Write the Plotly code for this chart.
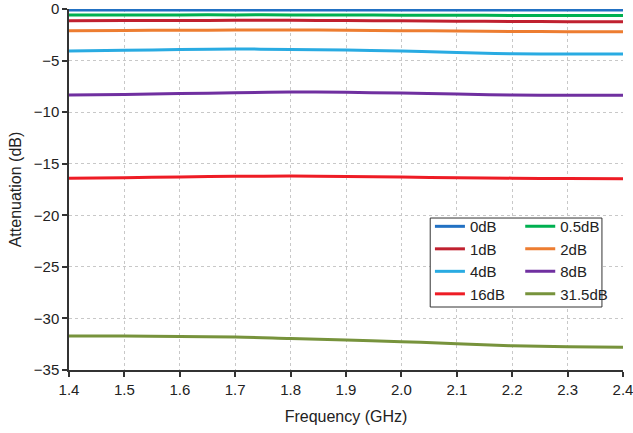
import plotly.graph_objects as go

freq = [1.4, 1.5, 1.6, 1.7, 1.8, 1.9, 2.0, 2.1, 2.2, 2.3, 2.4]
att_0 = [-0.1, -0.1, -0.1, -0.1, -0.1, -0.1, -0.1, -0.1, -0.1, -0.1, -0.1]
att_05 = [-0.58, -0.58, -0.57, -0.57, -0.57, -0.58, -0.6, -0.61, -0.62, -0.63, -0.64]
att_1 = [-1.13, -1.12, -1.11, -1.1, -1.1, -1.12, -1.15, -1.18, -1.21, -1.23, -1.24]
att_2 = [-2.1, -2.08, -2.06, -2.04, -2.04, -2.06, -2.1, -2.14, -2.18, -2.2, -2.2]
att_4 = [-4.07, -4.0, -3.93, -3.88, -3.92, -3.98, -4.07, -4.22, -4.34, -4.36, -4.36]
att_8 = [-8.34, -8.28, -8.2, -8.12, -8.05, -8.08, -8.15, -8.25, -8.34, -8.36, -8.36]
att_16 = [-16.4, -16.35, -16.28, -16.22, -16.2, -16.24, -16.3, -16.36, -16.4, -16.44, -16.45]
att_315 = [-31.7, -31.7, -31.75, -31.8, -31.95, -32.1, -32.25, -32.45, -32.65, -32.75, -32.8]

x_ticks = [1.4, 1.5, 1.6, 1.7, 1.8, 1.9, 2.0, 2.1, 2.2, 2.3, 2.4]
x_tick_labels = ["1.4", "1.5", "1.6", "1.7", "1.8", "1.9", "2.0", "2.1", "2.2", "2.3", "2.4"]

names = ["0dB", "0.5dB", "1dB", "2dB", "4dB", "8dB", "16dB", "31.5dB"]
series = [att_0, att_05, att_1, att_2, att_4, att_8, att_16, att_315]
colors = ["#2271c3", "#00b050", "#c0202f", "#ed7d31", "#29abe2", "#7030a0", "#ee1c25", "#77933c"]
legend_ids = ["legend", "legend2", "legend", "legend2", "legend", "legend2", "legend", "legend2"]

fig = go.Figure()
for n, s, c, lg in zip(names, series, colors, legend_ids):
    fig.add_trace(go.Scatter(x=freq, y=s, name=n, mode="lines",
                             line=dict(color=c, width=3, shape="spline"),
                             legend=lg))

font_fam = "Liberation Sans, Arial, sans-serif"
axis_common = dict(
    showline=True, linecolor="#333", linewidth=1.5,
    ticks="outside", ticklen=5, tickcolor="#333", tickwidth=1.5,
    showgrid=True, gridcolor="#c8c8c8", griddash="dot", gridwidth=1,
    zeroline=False, automargin=False, ticklabeloverflow="allow",
    tickfont=dict(size=15, color="#222", family=font_fam),
)

fig.update_layout(
    width=633, height=433,
    margin=dict(l=69, r=10, t=9, b=63),
    paper_bgcolor="white", plot_bgcolor="white",
    font=dict(family=font_fam, color="#222"),
    xaxis=dict(range=[1.4, 2.4], tickmode="array", tickvals=x_ticks, ticktext=x_tick_labels,
               title=dict(text="Frequency (GHz)", font=dict(size=16), standoff=14),
               **axis_common),
    yaxis=dict(range=[-35, 0], dtick=5,
               title=dict(text="Attenuation (dB)", font=dict(size=16), standoff=8),
               **axis_common),
    shapes=[dict(type="rect", xref="paper", yref="paper",
                 x0=0.652, x1=0.962, y0=0.1745, y1=0.421,
                 line=dict(color="#333", width=1), fillcolor="white", layer="above")],
    legend=dict(x=0.6515, y=0.443, xanchor="left", yanchor="top",
                bgcolor="rgba(0,0,0,0)", font=dict(size=15, color="#222"),
                tracegroupgap=0),
    legend2=dict(x=0.8145, y=0.443, xanchor="left", yanchor="top",
                 bgcolor="rgba(0,0,0,0)", font=dict(size=15, color="#222"),
                 tracegroupgap=0),
)

fig.write_html("out.html")
